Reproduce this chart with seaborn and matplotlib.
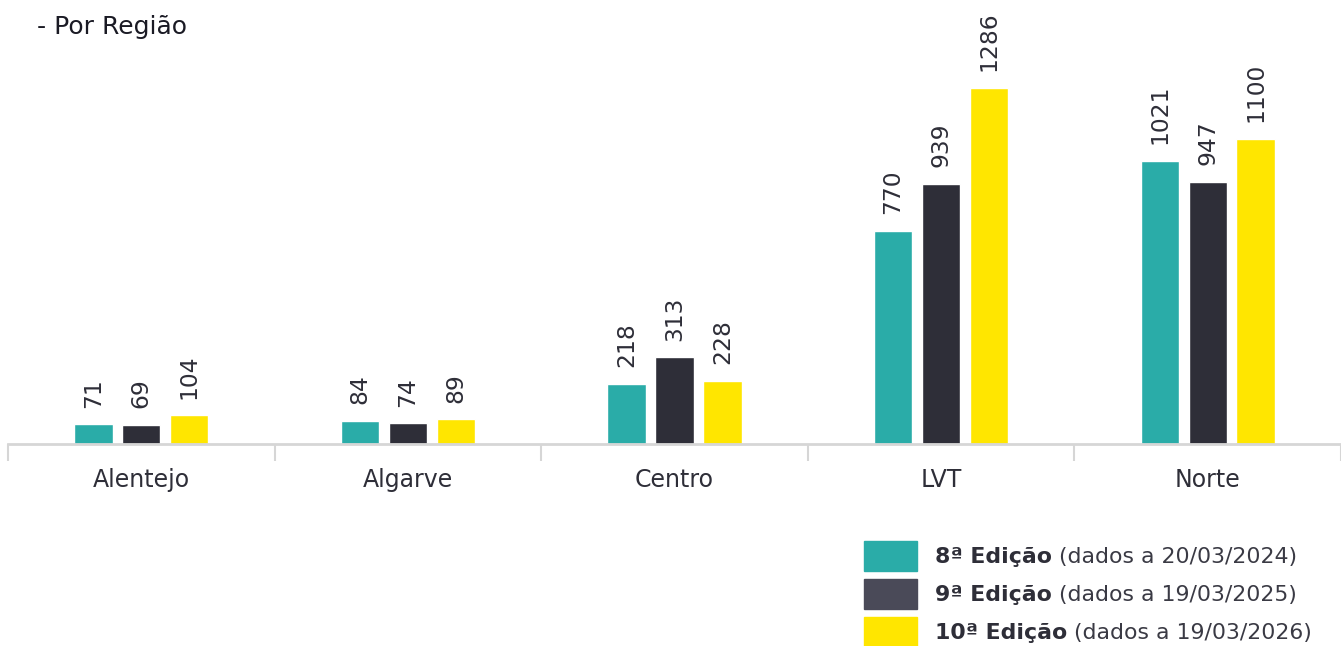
import matplotlib
matplotlib.use("Agg")
import matplotlib.pyplot as plt
from matplotlib.text import Annotation
import seaborn as sns
import pandas as pd

regioes = ["Alentejo", "Algarve", "Centro", "LVT", "Norte"]
edicoes = ["8ª Edição", "9ª Edição", "10ª Edição"]
datas = ["(dados a 20/03/2024)", "(dados a 19/03/2025)", "(dados a 19/03/2026)"]
ed8 = [71, 84, 218, 770, 1021]
ed9 = [69, 74, 313, 939, 947]
ed10 = [104, 89, 228, 1286, 1100]
cores = ["#2AACA8", "#2E2E38", "#FFE600"]
cores_legenda = ["#2AACA8", "#4A4A58", "#FFE600"]

rows = []
for ed, vals in zip(edicoes, [ed8, ed9, ed10]):
    for r, v in zip(regioes, vals):
        rows.append({"Região": r, "Valor": v, "Edição": ed})
df = pd.DataFrame(rows)

sns.set_style("white")
plt.rcParams["font.family"] = ["DejaVu Sans"]
TXT = "#2E2E38"

fig = plt.figure(figsize=(13.41, 6.46), dpi=100)
ax = fig.add_axes([8 / 1341, 1 - 444 / 646, 1 - 8 / 1341, 444 / 646])

sns.barplot(data=df, x="Região", y="Valor", hue="Edição", order=regioes,
            hue_order=edicoes, palette=cores, width=0.54, gap=0.2,
            saturation=1, ax=ax, legend=True)

for cont in ax.containers:
    ax.bar_label(cont, rotation=90, padding=12, fontsize=16.8, color=TXT)

ax.set_xlim(-0.5, 4.5)
ax.set_ylim(0, 1602)
ax.set_xlabel("")
ax.set_ylabel("")
ax.set_yticks([])
for s in ["top", "right", "left"]:
    ax.spines[s].set_visible(False)
ax.spines["bottom"].set_color("#D6D6D6")
ax.spines["bottom"].set_linewidth(2)

ax.set_xticks([i - 0.5 for i in range(6)])
ax.set_xticklabels([""] * 6)
ax.tick_params(axis="x", which="major", length=12, width=1.5, color="#D6D6D6",
               direction="out", bottom=True)
ax.set_xticks(range(5), minor=True)
ax.set_xticklabels(regioes, minor=True, fontsize=17, color=TXT)
ax.tick_params(axis="x", which="minor", length=0, pad=17)

leg_old = ax.get_legend()
handles = leg_old.legend_handles
leg_old.remove()
for h, c in zip(handles, cores_legenda):
    h.set_facecolor(c)
    h.set_edgecolor(c)
FS = 15.8
fpx = FS * 100 / 72
leg = fig.legend(handles, edicoes, loc="upper left",
                 bbox_to_anchor=(864 / 1341, 1 - 541 / 646),
                 frameon=False, borderpad=0, borderaxespad=0,
                 handlelength=53 / fpx, handleheight=31 * 1.24 / fpx,
                 labelspacing=7.5 / fpx, handletextpad=18 / fpx,
                 prop={"size": FS, "weight": "bold"})
leg.set_zorder(5)
for t, d in zip(leg.get_texts(), datas):
    t.set_color(TXT)
    a = Annotation(" " + d, xy=(1, 0), xycoords=t, xytext=(0, 0),
                   textcoords="offset points", ha="left", va="bottom",
                   fontsize=FS, color="#3A3A44")
    a.set_zorder(20)
    fig.add_artist(a)

fig.text(37 / 1341, 1 - 27 / 646, "- Por Região", fontsize=18, color="#1A1A24",
         ha="left", va="center")

fig.savefig("out.png", dpi=100)
